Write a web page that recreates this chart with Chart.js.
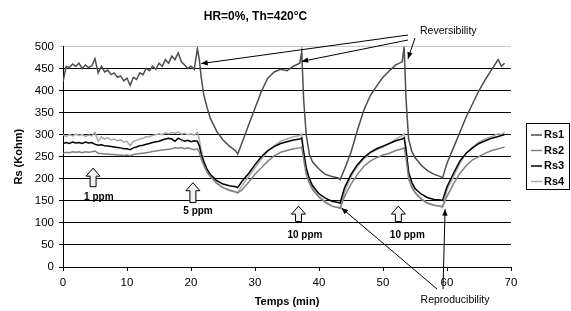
<!DOCTYPE html>
<html>
<head>
<meta charset="utf-8">
<script src="https://cdn.jsdelivr.net/npm/chart.js@4"></script>
<style>
  html, body { margin: 0; padding: 0; background: #fff; }
  #wrap { width: 571px; height: 311px; }
</style>
</head>
<body>
<div id="wrap"><canvas id="chartRs"></canvas></div>
<script>
// time (min)
const time = [
  0, 0.5, 1, 1.5, 2, 2.5, 3, 3.5, 4, 4.5, 5, 5.5, 6, 6.5, 7, 7.5, 8, 8.5, 9, 9.5,
  10, 10.5, 11, 11.5, 12, 12.5, 13, 13.5, 14, 14.5, 15, 15.5, 16, 16.5, 17, 17.5, 18, 18.5, 19, 19.5,
  20, 20.5,
  21, 21.3, 21.6, 22, 22.5, 23, 24, 25, 26, 27, 27.3,
  28, 29, 30, 31, 32, 33, 34, 35, 36, 37,
  37.3, 37.6, 38, 38.5, 39, 40, 41, 42, 43, 43.3,
  44, 45, 46, 47, 48, 49, 50, 51, 52, 53,
  53.3, 53.6, 54, 54.5, 55, 56, 57, 58, 59, 59.3,
  60, 61, 62, 63, 64, 65, 66, 67, 68, 68.5, 69
];

const rs1 = [
  420, 455, 452, 460, 455, 462, 450, 458, 452, 456, 472, 440, 455, 442, 446, 436, 440, 430, 433, 422,
  428, 412, 430, 425, 440, 436, 450, 445, 455, 448, 462, 455, 470, 462, 478, 470, 485, 465, 458, 450,
  455, 448,
  495, 470, 430, 390, 362, 338, 308, 288, 274, 263, 256,
  283, 322, 360, 398, 428, 442, 448, 445, 455, 462,
  488, 380, 300, 255, 238, 222, 210, 205, 202, 198,
  222, 260, 310, 355, 388, 410, 430, 445, 458, 465,
  500, 380, 290, 262, 248, 230, 218, 210, 205, 202,
  235, 270, 305, 340, 370, 400, 425, 448, 470, 455, 462
];

const rs2 = [
  258, 260, 259, 261, 260, 261, 259, 261, 260, 261, 263, 258, 257, 256, 256, 255, 255, 254, 254, 253,
  254, 252, 255, 256, 257, 258, 259, 260, 262, 263, 264, 265, 266, 267, 268, 270, 269, 271, 268, 270,
  268, 266,
  268, 260, 245, 230, 215, 205, 190, 180, 174, 170, 168,
  175, 192, 210, 225, 240, 252, 260, 264, 268, 270,
  272, 245, 210, 190, 175, 158, 146, 138, 135, 134,
  160, 188, 210, 228, 240, 248, 254, 258, 264, 268,
  270, 248, 200, 180, 168, 153, 144, 140, 138, 137,
  160, 188, 212, 230, 243, 250, 258, 264, 268, 270, 272
];

const rs3 = [
  280, 282, 280, 283, 281, 282, 280, 283, 281, 282, 278, 276, 277, 275, 274, 273, 272, 271, 270, 268,
  268, 266, 270, 272, 275, 276, 278, 280, 282, 284, 285, 288, 290, 292, 290, 285, 292, 288, 285, 287,
  284, 286,
  285, 275, 255, 238, 222, 210, 196, 188, 184, 182, 180,
  195, 212, 232, 250, 264, 273, 280, 284, 288, 290,
  292, 260, 225, 200, 184, 166, 156, 149, 146, 145,
  180, 210, 232, 248, 260, 268, 274, 280, 286, 290,
  293, 265, 215, 192, 178, 165, 157, 153, 152, 151,
  182, 212, 240, 258, 270, 280, 286, 292, 296, 298, 300
];

const rs4 = [
  300, 296, 300, 297, 301, 298, 300, 296, 299, 297, 305, 285, 295, 290, 293, 288, 290, 286, 288, 283,
  285, 275, 285, 287, 290, 292, 295, 296, 298, 300, 302, 300, 304, 302, 305, 303, 306, 301, 303, 300,
  302, 299,
  305, 290, 265, 242, 222, 208, 190, 180, 174, 170, 168,
  185, 205, 225, 245, 262, 275, 285, 290, 295, 298,
  302, 262, 220, 195, 178, 160, 148, 138, 134, 132,
  170, 205, 228, 245, 258, 266, 272, 280, 290, 298,
  302, 270, 210, 185, 170, 155, 145, 140, 137, 135,
  175, 205, 235, 258, 272, 283, 290, 296, 302, 300, 305
];

const seriesNames = ["Rs1", "Rs2", "Rs3", "Rs4"];
const seriesColors = ["#4d4d4d", "#808080", "#000000", "#a8a8a8"];
const yTicks = [0, 50, 100, 150, 200, 250, 300, 350, 400, 450, 500];
const xTicks = [0, 10, 20, 30, 40, 50, 60, 70];

const allSeries = [rs1, rs2, rs3, rs4];

function toPoints(vals) {
    return vals.map((v, i) => ({ x: time[i], y: v }));
}

const datasets = allSeries.map((vals, i) => ({
    label: seriesNames[i],
    data: toPoints(vals),
    borderColor: seriesColors[i],
    backgroundColor: seriesColors[i],
    borderWidth: 1.5,
    pointRadius: 0,
    tension: 0,
}));

// arrows + notes drawn on top of the chart
function arrowHead(ctx, x0, y0, x1, y1) {
    const a = Math.atan2(y1 - y0, x1 - x0);
    const len = 7, w = 0.4;
    ctx.beginPath();
    ctx.moveTo(x1, y1);
    ctx.lineTo(x1 - len * Math.cos(a - w), y1 - len * Math.sin(a - w));
    ctx.lineTo(x1 - len * Math.cos(a + w), y1 - len * Math.sin(a + w));
    ctx.closePath();
    ctx.fill();
}

function pointer(ctx, x0, y0, x1, y1) {
    ctx.beginPath();
    ctx.moveTo(x0, y0);
    ctx.lineTo(x1, y1);
    ctx.stroke();
    arrowHead(ctx, x0, y0, x1, y1);
}

function hollowArrow(ctx, cx, top, bottom) {
    const hw = 7, sw = 3, hh = 8;
    ctx.beginPath();
    ctx.moveTo(cx, top);
    ctx.lineTo(cx + hw, top + hh);
    ctx.lineTo(cx + sw, top + hh);
    ctx.lineTo(cx + sw, bottom);
    ctx.lineTo(cx - sw, bottom);
    ctx.lineTo(cx - sw, top + hh);
    ctx.lineTo(cx - hw, top + hh);
    ctx.closePath();
    ctx.fillStyle = "#f0f0f0";
    ctx.fill();
    ctx.strokeStyle = "#000";
    ctx.lineWidth = 1;
    ctx.stroke();
}

const notesPlugin = {
    id: "notes",
    afterDraw(chart) {
        const ctx = chart.ctx;
        const xs = chart.scales.x, ys = chart.scales.y;
        const px = (t) => xs.getPixelForValue(t);
        const py = (v) => ys.getPixelForValue(v);
        ctx.save();

        // injection arrows
        const shots = [
            { t: 4.7, top: 224, bottom: 182, text: "1 ppm", tx: 5.6, ty: 159 },
            { t: 20.3, top: 191, bottom: 146, text: "5 ppm", tx: 21.1, ty: 126 },
            { t: 36.8, top: 138, bottom: 103, text: "10 ppm", tx: 37.8, ty: 71 },
            { t: 52.4, top: 138, bottom: 103, text: "10 ppm", tx: 53.8, ty: 71 },
        ];
        shots.forEach((s) => {
            hollowArrow(ctx, px(s.t), py(s.top), py(s.bottom));
            ctx.fillStyle = "#000";
            ctx.font = "bold 10px 'Liberation Sans', Arial, sans-serif";
            ctx.textAlign = "center";
            ctx.textBaseline = "middle";
            ctx.fillText(s.text, px(s.tx), py(s.ty));
        });

        // reversibility
        ctx.strokeStyle = "#000";
        ctx.fillStyle = "#000";
        ctx.lineWidth = 1;
        pointer(ctx, 408, 35, px(21.6), py(461));
        pointer(ctx, 408, 40, px(37.3), py(466));
        pointer(ctx, 415, 38, px(53.9), py(472));
        ctx.font = "10.5px 'Liberation Sans', Arial, sans-serif";
        ctx.textAlign = "left";
        ctx.textBaseline = "middle";
        ctx.fillText("Reversibility", 420, 31);

        // reproducibility
        pointer(ctx, 437, 289, px(43.5), py(134));
        pointer(ctx, 443, 289, px(59.7), py(131));
        ctx.textAlign = "center";
        ctx.fillText("Reproducibility", 455, 300);

        // legend box
        const lx = 526, ly = 123, lw = 43, lh = 66;
        ctx.fillStyle = "#fff";
        ctx.fillRect(lx, ly, lw, lh);
        ctx.strokeStyle = "#000";
        ctx.strokeRect(lx + 0.5, ly + 0.5, lw, lh);
        chart.data.datasets.forEach((ds, i) => {
            const yy = ly + 12 + i * 15.5;
            ctx.strokeStyle = ds.borderColor;
            ctx.lineWidth = 1.5;
            ctx.beginPath();
            ctx.moveTo(lx + 5, yy);
            ctx.lineTo(lx + 16, yy);
            ctx.stroke();
            ctx.fillStyle = "#000";
            ctx.font = "bold 11px 'Liberation Sans', Arial, sans-serif";
            ctx.textAlign = "left";
            ctx.fillText(ds.label, lx + 18, yy);
        });
        ctx.restore();
    },
};

const tickFont = { family: "'Liberation Sans', Arial, sans-serif", size: 11.5 };
const boldFont = { family: "'Liberation Sans', Arial, sans-serif", size: 11, weight: "bold" };

new Chart(document.getElementById("chartRs"), {
    type: "line",
    data: { datasets: datasets },
    options: {
        responsive: true,
        maintainAspectRatio: false,
        animation: false,
        layout: { padding: { left: 0, right: 60, top: 0, bottom: 0 } },
        plugins: {
            legend: { display: false },
            tooltip: { enabled: false },
            title: {
                display: true,
                text: "HR=0%, Th=420°C",
                color: "#000",
                font: { family: "'Liberation Sans', Arial, sans-serif", size: 12, weight: "bold" },
                padding: { top: 9, bottom: 23 },
            },
        },
        scales: {
            x: {
                type: "linear",
                min: 0,
                max: 70,
                afterBuildTicks: (s) => { s.ticks = xTicks.map((v) => ({ value: v })); },
                afterFit: (s) => { s.height = 44; },
                ticks: { color: "#000", font: tickFont, padding: 5 },
                grid: { drawOnChartArea: false, color: "#000", tickLength: 4 },
                border: { color: "#000" },
                title: { display: true, text: "Temps (min)", color: "#000", font: boldFont, padding: { top: 0, bottom: 2 } },
            },
            y: {
                min: 0,
                max: 500,
                afterBuildTicks: (s) => { s.ticks = yTicks.map((v) => ({ value: v })); },
                afterFit: (s) => { s.width = 63; },
                ticks: { color: "#000", font: tickFont, padding: 5 },
                grid: {
                    color: (c) => (c.tick && c.tick.value === 500 ? "#c8c8c8" : "#000"),
                    tickLength: 4,
                },
                border: { color: "#000" },
                title: { display: true, text: "Rs (Kohm)", color: "#000", font: boldFont, padding: { top: 12, bottom: 0 } },
            },
        },
    },
    plugins: [notesPlugin],
});
</script>
</body>
</html>
